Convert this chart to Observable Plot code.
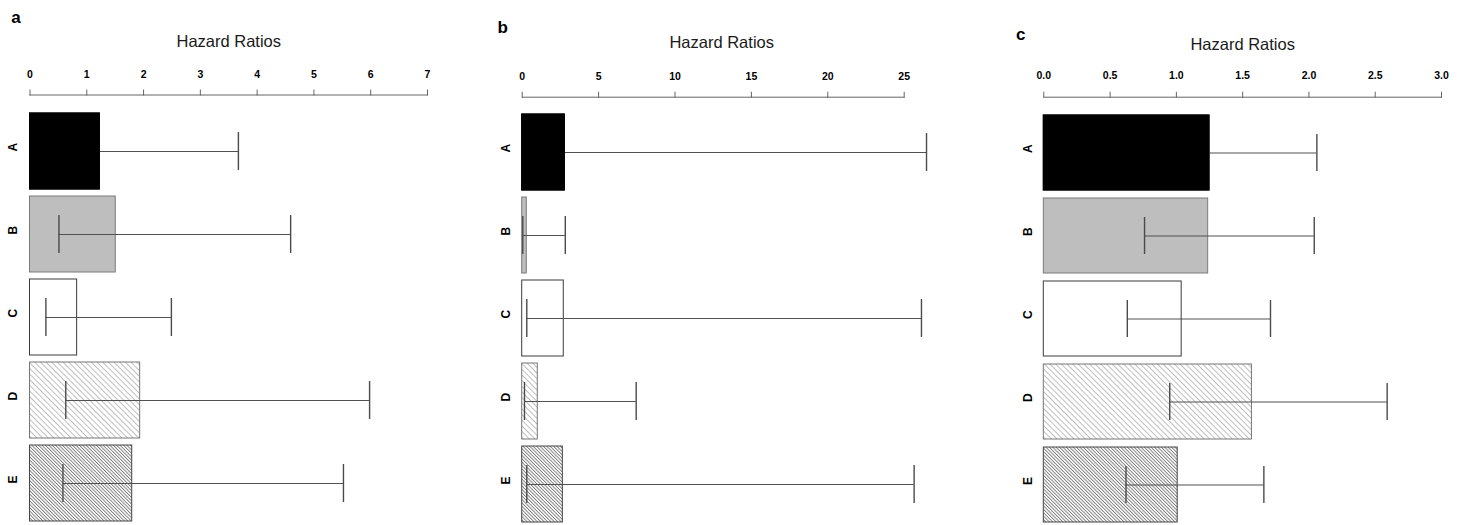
<!DOCTYPE html>
<html>
<head>
<meta charset="utf-8">
<script src="https://cdn.jsdelivr.net/npm/d3@7"></script>
<script src="https://cdn.jsdelivr.net/npm/@observablehq/plot@0.6"></script>
<style>
  html, body { margin: 0; padding: 0; background: #fff; }
  #root { position: relative; width: 1462px; height: 525px; overflow: hidden; font-family: "Liberation Sans", Arial, sans-serif; }
  .panel { position: absolute; top: 0; }
</style>
</head>
<body>
<svg width="0" height="0" style="position:absolute">
  <defs>
    <pattern id="hatchLight" patternUnits="userSpaceOnUse" width="4" height="10" patternTransform="rotate(-45)">
      <rect width="4" height="10" fill="#fff"></rect>
      <line x1="0.5" y1="0" x2="0.5" y2="10" stroke="#b8b8b8" stroke-width="0.9"></line>
    </pattern>
    <pattern id="hatchDark" patternUnits="userSpaceOnUse" width="2.4" height="10" patternTransform="rotate(-45)">
      <rect width="2.4" height="10" fill="#fff"></rect>
      <line x1="0.5" y1="0" x2="0.5" y2="10" stroke="#555" stroke-width="0.8"></line>
    </pattern>
  </defs>
</svg>
<div id="root"></div>
<script>
// ---- data ----
const categories = ["A", "B", "C", "D", "E"];
const panelLetters = ["a", "b", "c"];
const axisTitle = "Hazard Ratios";

const hrA = [1.23, 1.51, 0.83, 1.94, 1.80];
const loA = [0.45, 0.51, 0.28, 0.63, 0.58];
const hiA = [3.67, 4.59, 2.49, 5.98, 5.52];
const ticksA = [0, 1, 2, 3, 4, 5, 6, 7];

const hrB = [2.79, 0.30, 2.72, 1.02, 2.66];
const loB = [0.30, 0.04, 0.30, 0.15, 0.30];
const hiB = [26.46, 2.82, 26.13, 7.46, 25.65];
const ticksB = [0, 5, 10, 15, 20, 25];

const hrC = [1.25, 1.24, 1.04, 1.57, 1.01];
const loC = [0.75, 0.76, 0.63, 0.95, 0.62];
const hiC = [2.06, 2.04, 1.71, 2.59, 1.66];
const ticksC = [0, 0.5, 1, 1.5, 2, 2.5, 3];

// ---- styles ----
const barFills = ["#000000", "#bebebe", "#ffffff", "url(#hatchLight)", "url(#hatchDark)"];
const barStrokes = ["#000000", "#7a7a7a", "#3a3a3a", "#777777", "#444444"];
const FONT = "'Liberation Sans', Arial, sans-serif";

function rows(hr, lo, hi) {
  return categories.map((c, i) => ({cat: c, hr: hr[i], lo: lo[i], hi: hi[i], fill: barFills[i], stroke: barStrokes[i]}));
}

function makePanel(cfg) {
  const data = rows(cfg.hr, cfg.lo, cfg.hi);
  const solid = d => d.fill === "#000000";
  const plot = Plot.plot({
    width: cfg.width,
    height: 525,
    marginLeft: cfg.marginLeft,
    marginRight: cfg.marginRight,
    marginTop: cfg.marginTop,
    marginBottom: 0,
    style: {fontFamily: FONT, background: "transparent", color: "#000", overflow: "visible"},
    x: {domain: cfg.domain, axis: null},
    y: {domain: categories, range: cfg.yRange, paddingInner: cfg.padIn, paddingOuter: 0.045, axis: null},
    color: {type: "identity"},
    marks: [
      Plot.frame({anchor: "top", stroke: "#666"}),
      Plot.axisX({anchor: "top", ticks: cfg.ticks, tickFormat: cfg.fmt, tickSize: 6, tickPadding: cfg.tickPad,
                  stroke: "#666", fill: "#000", fontSize: 10.5, fontWeight: "bold"}),
      Plot.barX(data, {x1: 0, x2: "hr", y: "cat", fill: "fill", stroke: "stroke", strokeWidth: 1}),
      Plot.ruleY(data, {y: "cat", x1: "lo", x2: "hi", stroke: "#505050", strokeWidth: 1.1}),
      Plot.tickX(data, {x: "lo", y: "cat", insetTop: 19, insetBottom: 19, stroke: "#4a4a4a", strokeWidth: 1.4}),
      Plot.tickX(data, {x: "hi", y: "cat", insetTop: 19, insetBottom: 19, stroke: "#4a4a4a", strokeWidth: 1.4}),
      // solid black bar hides the part of its interval that lies inside it
      Plot.barX(data, {filter: solid, x1: 0, x2: "hr", y: "cat", fill: "fill", stroke: "stroke", strokeWidth: 1}),
      Plot.text(categories, {y: d => d, text: d => d, frameAnchor: "left", dx: cfg.catDx, rotate: -90,
                             fontSize: 12, fontWeight: "bold", fill: "#000"}),
      Plot.text([axisTitle], {frameAnchor: "top", dx: cfg.titleDx, dy: cfg.titleDy, lineAnchor: "bottom",
                              fontSize: 16.5, fill: "#1a1a1a"}),
      Plot.text([cfg.letter], {frameAnchor: "top-left", dx: cfg.letterDx, dy: cfg.letterDy, lineAnchor: "bottom",
                               textAnchor: "middle", fontSize: 17, fontWeight: "bold", fill: "#000"})
    ]
  });
  const wrap = document.createElement("div");
  wrap.className = "panel";
  wrap.style.left = cfg.left + "px";
  wrap.appendChild(plot);
  document.getElementById("root").appendChild(wrap);
}

const fmt1 = d3.format(".1f");
const fmt0 = d3.format("d");

makePanel({letter: panelLetters[0], hr: hrA, lo: loA, hi: hiA, domain: [0, 7], ticks: ticksA, fmt: fmt0,
  left: 0, width: 470, marginLeft: 29.5, marginRight: 43, marginTop: 94.5, tickPad: 11,
  yRange: [107.75, 525.25], padIn: 0.09, catDx: -17, titleDx: 0, titleDy: -48, letterDx: -14, letterDy: -72});

makePanel({letter: panelLetters[1], hr: hrB, lo: loB, hi: hiB, domain: [0, 25], ticks: ticksB, fmt: fmt0,
  left: 480, width: 500, marginLeft: 41.7, marginRight: 76.3, marginTop: 96.7, tickPad: 11.5,
  yRange: [108.75, 526.25], padIn: 0.09, catDx: -16, titleDx: 8.5, titleDy: -49, letterDx: -19.5, letterDy: -64});

makePanel({letter: panelLetters[2], hr: hrC, lo: loC, hi: hiC, domain: [0, 3], ticks: ticksC, fmt: fmt1,
  left: 985, width: 477, marginLeft: 58.3, marginRight: 21, marginTop: 96.7, tickPad: 12,
  yRange: [109.45, 527.95], padIn: 0.092, catDx: -15.6, titleDx: 0, titleDy: -47.5, letterDx: -23, letterDy: -57.5});
</script>
</body>
</html>
